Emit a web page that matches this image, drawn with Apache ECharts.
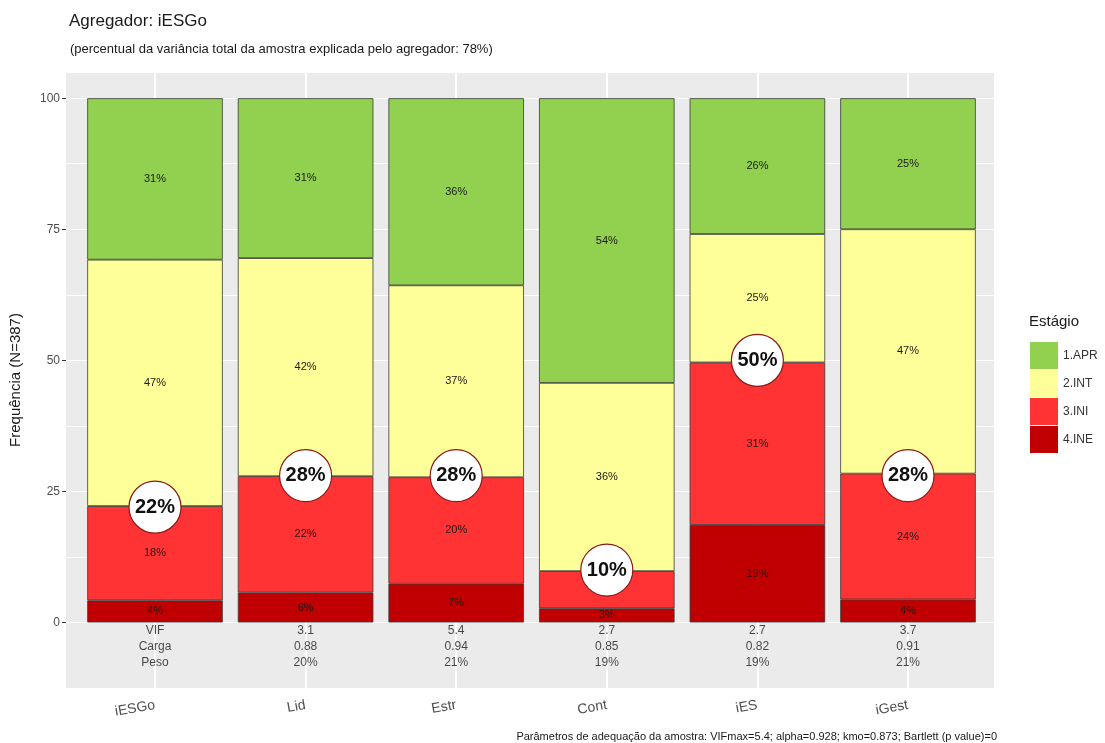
<!DOCTYPE html>
<html>
<head>
<meta charset="utf-8">
<script src="https://cdn.jsdelivr.net/npm/echarts@6/dist/echarts.min.js"></script>
<style>html,body{margin:0;padding:0;background:#fff;}#c{width:1105px;height:743px;}</style>
</head>
<body>
<div id="c"></div>
<script>
// ---- data ----
const categories = ['iESGo', 'Lid', 'Estr', 'Cont', 'iES', 'iGest'];
const stageNames = ['1.APR', '2.INT', '3.INI', '4.INE'];
const INE = [4.2, 5.7, 7.4, 2.7, 18.6, 4.4];
const INI = [18.0, 22.2, 20.3, 7.1, 31.0, 24.0];
const INT = [47.0, 41.6, 36.6, 35.9, 24.5, 46.6];
const APR = [30.8, 30.5, 35.7, 54.3, 25.9, 25.0];
const circleValues = [22, 28, 28, 10, 50, 28];
const rowNames = ['VIF', 'Carga', 'Peso'];
const vif = [null, '3.1', '5.4', '2.7', '2.7', '3.7'];
const carga = [null, '0.88', '0.94', '0.85', '0.82', '0.91'];
const peso = [null, '20%', '21%', '19%', '19%', '21%'];
const yTicks = [0, 25, 50, 75, 100];
const tableY = -4.6;

const colors = { '1.APR': '#92D050', '2.INT': '#FFFF99', '3.INI': '#FF3333', '4.INE': '#C00000' };
const FONT = 'Liberation Sans, Arial, sans-serif';

const chart = echarts.init(document.getElementById('c'), null, { renderer: 'canvas' });

function barSeries(name, data) {
  return {
    name: name, type: 'bar', stack: 'all', xAxisIndex: 1, yAxisIndex: 1,
    data: data, barCategoryGap: '10%', z: 2,
    itemStyle: { color: colors[name], borderColor: '#3a3a3a', borderWidth: 0.8 },
    label: { show: true, position: 'inside', fontFamily: FONT, fontSize: 11, color: '#1a1a1a',
      formatter: p => Math.round(p.value) + '%' },
    emphasis: { disabled: true }
  };
}

const tableData = categories.map((c, i) => ({
  value: [i, tableY],
  label: { formatter: i === 0 ? rowNames.join('\n') : [vif[i], carga[i], peso[i]].join('\n') }
}));

const option = {
  animation: false,
  textStyle: { fontFamily: FONT },
  title: [
    { text: 'Agregador: iESGo', left: 64, top: 8,
      textStyle: { fontFamily: FONT, fontSize: 17, fontWeight: 'normal', color: '#1a1a1a' } },
    { text: '(percentual da variância total da amostra explicada pelo agregador: 78%)', left: 65, top: 38,
      textStyle: { fontFamily: FONT, fontSize: 13, fontWeight: 'normal', color: '#1a1a1a' } },
    { text: 'Estágio', left: 1024, top: 309,
      textStyle: { fontFamily: FONT, fontSize: 15, fontWeight: 'normal', color: '#1a1a1a' } },
    { text: 'Parâmetros de adequação da amostra: VIFmax=5.4; alpha=0.928; kmo=0.873; Bartlett (p value)=0',
      right: 103, top: 726,
      textStyle: { fontFamily: FONT, fontSize: 11, fontWeight: 'normal', color: '#1a1a1a' } }
  ],
  legend: {
    data: stageNames, orient: 'vertical', left: 1025, top: 337,
    itemWidth: 28, itemHeight: 27, itemGap: 1, icon: 'rect',
    itemStyle: { borderWidth: 0 },
    textStyle: { fontFamily: FONT, fontSize: 12, color: '#333' },
    selectedMode: false
  },
  grid: [
    { left: 66, right: 111, top: 72, bottom: 55, show: true, backgroundColor: '#EBEBEB', borderWidth: 0 },
    { left: 79.7, right: 121.7, top: 72, bottom: 55 }
  ],
  xAxis: [
    { type: 'category', gridIndex: 0, data: categories, show: false },
    { type: 'category', gridIndex: 1, data: categories, boundaryGap: true,
      axisLine: { show: false },
      axisTick: { show: true, alignWithLabel: true, length: 5, lineStyle: { color: '#333' } },
      splitLine: { show: false },
      axisLabel: { rotate: 10, margin: 17, fontFamily: FONT, fontSize: 14, color: '#4d4d4d' } }
  ],
  yAxis: [
    { type: 'value', gridIndex: 0, min: -12.5, max: 105, interval: 12.5, position: 'left',
      axisLine: { show: false }, axisTick: { show: false }, axisLabel: { show: false },
      splitLine: { show: true, lineStyle: { color: '#ffffff', width: 1.2 } } },
    { type: 'value', gridIndex: 1, min: -12.5, max: 105, show: false, splitLine: { show: false } },
    { type: 'value', gridIndex: 0, min: -12.5, max: 105, position: 'left', offset: 0,
      name: 'Frequência (N=387)', nameLocation: 'middle', nameGap: 43, nameRotate: 90,
      nameTextStyle: { fontFamily: FONT, fontSize: 15, color: '#1a1a1a' },
      axisLine: { show: false },
      axisTick: { show: true, length: 4, lineStyle: { color: '#333' }, customValues: yTicks },
      axisLabel: { fontFamily: FONT, fontSize: 12, color: '#4d4d4d', margin: 6, customValues: yTicks },
      splitLine: { show: false } }
  ],
  series: [
    barSeries('4.INE', INE),
    barSeries('3.INI', INI),
    barSeries('2.INT', INT),
    barSeries('1.APR', APR),
    {
      name: 'table', type: 'scatter', xAxisIndex: 1, yAxisIndex: 1, z: 1,
      symbolSize: 0.1, itemStyle: { color: 'rgba(0,0,0,0)' },
      data: tableData,
      label: { show: true, position: 'inside', fontFamily: FONT, fontSize: 12, color: '#1a1a1a',
        lineHeight: 16, align: 'center', verticalAlign: 'middle' },
      markLine: {
        silent: true, symbol: ['none', 'none'], z: 1,
        label: { show: false },
        lineStyle: { color: '#ffffff', width: 2, type: 'solid' },
        data: categories.map(c => ({ xAxis: c }))
      },
      emphasis: { disabled: true }
    },
    {
      name: 'circles', type: 'scatter', xAxisIndex: 1, yAxisIndex: 1, z: 5,
      symbol: 'circle', symbolSize: 52,
      itemStyle: { color: '#ffffff', opacity: 1, borderColor: '#8B1A1A', borderWidth: 1.2 },
      data: circleValues.map((v, i) => [i, v]),
      label: { show: true, position: 'inside', fontFamily: FONT, fontSize: 20, fontWeight: 'bold', color: '#111',
        formatter: p => p.value[1] + '%' },
      emphasis: { disabled: true }
    }
  ]
};
chart.setOption(option);
</script>
</body>
</html>
